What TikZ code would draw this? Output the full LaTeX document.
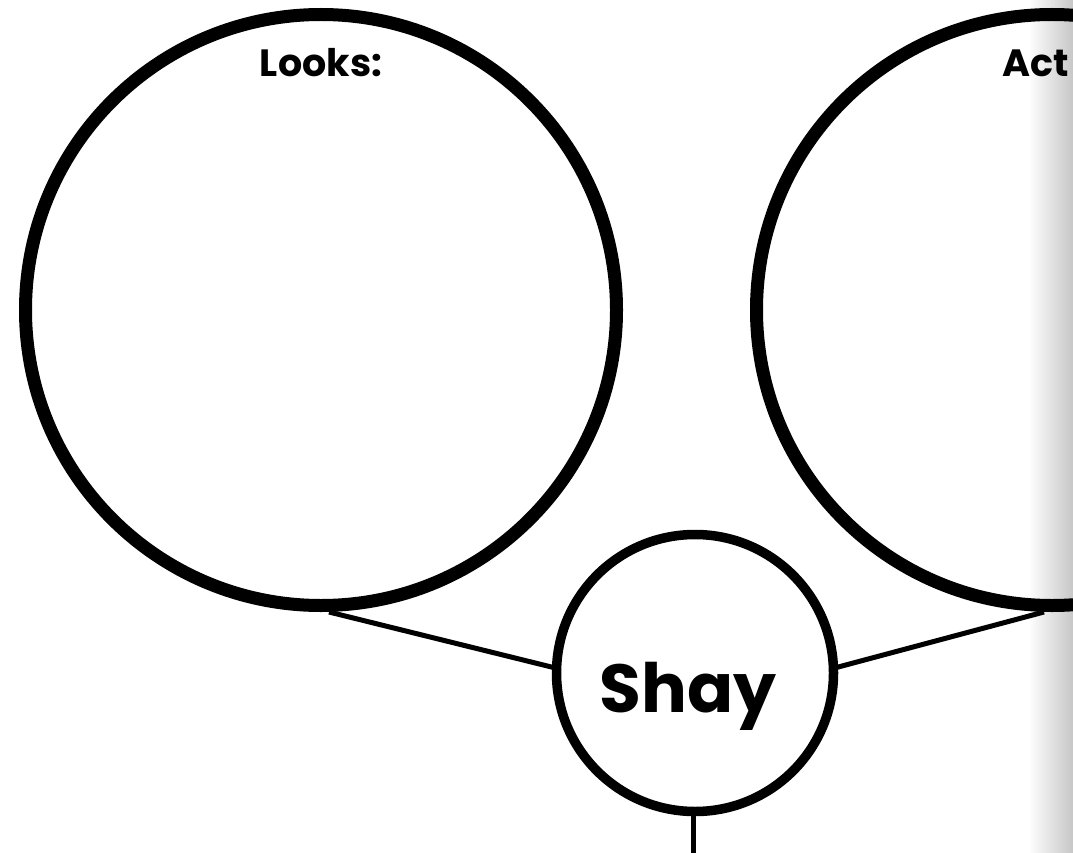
\documentclass[tikz,border=0pt]{standalone}
\usepackage{fontspec}
\setmainfont{Poppins}
\begin{document}
\begin{tikzpicture}[x=1pt,y=-1pt,
  bigcircle/.style={draw=black,line width=13pt,circle,minimum size=591pt,inner sep=0pt},
  namecircle/.style={draw=black,line width=9.5pt,circle,minimum size=277pt,inner sep=0pt},
  namelbl/.style={font=\bfseries\fontsize{68}{74}\selectfont,inner sep=0pt,anchor=base},
  link/.style={draw=black,line width=5pt},
  lbl/.style={font=\bfseries\fontsize{38}{44}\selectfont,inner sep=0pt,anchor=base}]
\useasboundingbox (0,0) rectangle (1073,853);
\clip (0,0) rectangle (1073,853);
\shade[left color=white,right color=black!22] (1028,0) rectangle (1073,853);
\node[bigcircle] (looks) at (321,310) {};
\node[bigcircle] (acts) at (1052,310) {};
\node[namecircle] (shay) at (695,673) {};
\node[namelbl] (tshay) at (688,712) {Shay};
\node[lbl] (tlooks) at (321,77) {Looks:};
\node[lbl,anchor=base west] (tacts) at (1002,77) {Act};
\coordinate (bottom) at (693,853);
\path (looks.south)++(8,0) coordinate (lb);
\path (acts.south)++(-8,0) coordinate (rb);
\path (shay.center)++(-139.5,-5) coordinate (sl);
\path (shay.center)++(139.5,-5) coordinate (sr);
\draw[link] (lb) -- (sl);
\draw[link] (rb) -- (sr);
\draw[link] (shay.south -| bottom) -- (bottom);
\end{tikzpicture}
\end{document}
